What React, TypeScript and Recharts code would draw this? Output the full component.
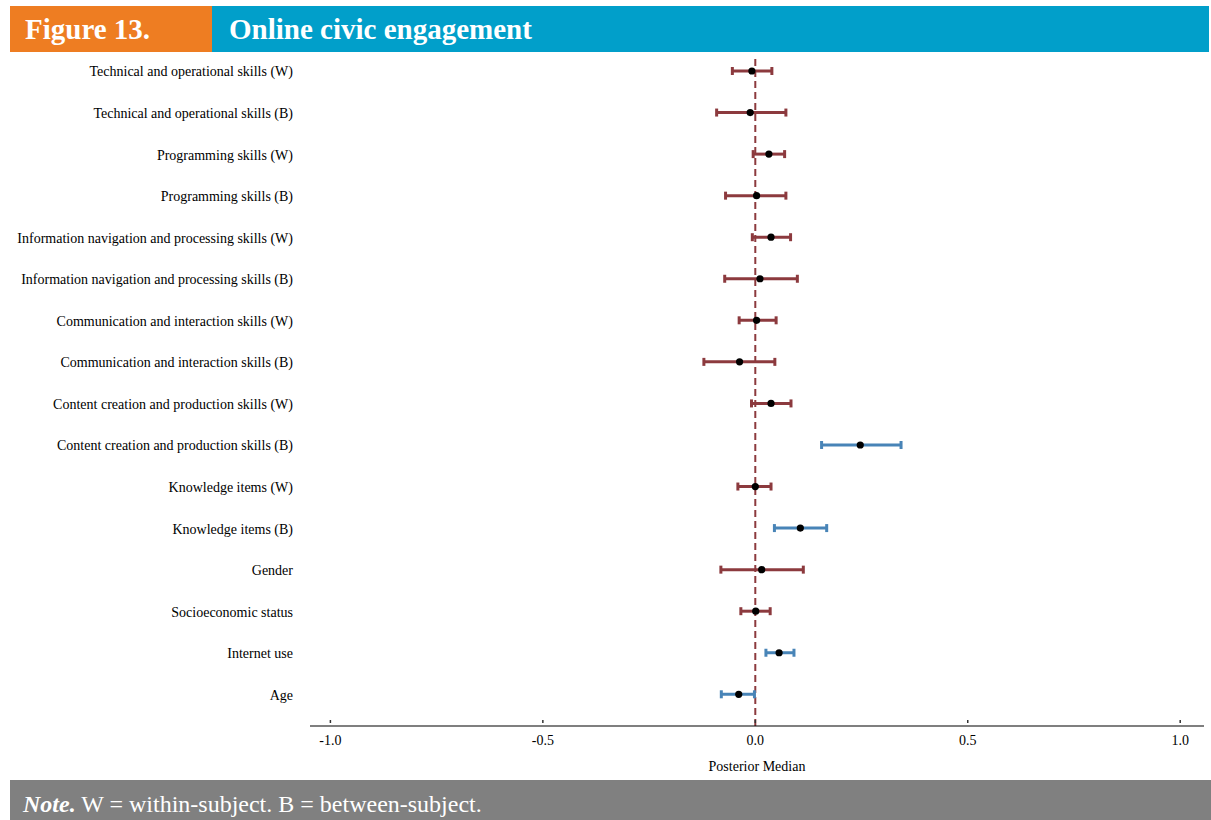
import React from "react";
import { ScatterChart, Scatter, XAxis, YAxis, ErrorBar, ReferenceLine } from "recharts";

const labels = [
  "Technical and operational skills (W)",
  "Technical and operational skills (B)",
  "Programming skills (W)",
  "Programming skills (B)",
  "Information navigation and processing skills (W)",
  "Information navigation and processing skills (B)",
  "Communication and interaction skills (W)",
  "Communication and interaction skills (B)",
  "Content creation and production skills (W)",
  "Content creation and production skills (B)",
  "Knowledge items (W)",
  "Knowledge items (B)",
  "Gender",
  "Socioeconomic status",
  "Internet use",
  "Age",
];
const medians = [-0.008, -0.012, 0.032, 0.003, 0.037, 0.011, 0.003, -0.037, 0.037, 0.247, 0.0, 0.106, 0.015, 0.001, 0.056, -0.039];
const lowers = [-0.054, -0.091, -0.005, -0.07, -0.007, -0.072, -0.038, -0.121, -0.009, 0.156, -0.041, 0.045, -0.081, -0.034, 0.025, -0.08];
const uppers = [0.039, 0.072, 0.069, 0.072, 0.083, 0.099, 0.049, 0.046, 0.084, 0.343, 0.037, 0.168, 0.113, 0.035, 0.091, -0.002];
const xTicks = [-1.0, -0.5, 0.0, 0.5, 1.0];

const RED = "#8c3a3e";
const BLUE = "#4884b7";
const SERIF = "'Liberation Serif', 'Times New Roman', serif";

const rows = labels.map((label, i) => ({
  label,
  row: i,
  median: medians[i],
  err: [medians[i] - lowers[i], uppers[i] - medians[i]],
  sig: lowers[i] > 0 || uppers[i] < 0,
}));
const redRows = rows.filter((r) => !r.sig);
const blueRows = rows.filter((r) => r.sig);

const Dot = (p: any) => <circle cx={p.cx} cy={p.cy} r={3.6} fill="#000" />;

const XTick = (p: any) => {
  const { x, y, payload } = p;
  return (
    <g>
      <line x1={x} x2={x} y1={y - 8} y2={y - 5} stroke="#333" strokeWidth={1.5} />
      <text x={x} y={y + 17} textAnchor="middle" fontFamily={SERIF} fontSize={14} fill="#000">
        {payload.value.toFixed(1)}
      </text>
    </g>
  );
};

const YTick = (p: any) => {
  const { x, y, payload } = p;
  return (
    <text x={x} y={y} dy={5.5} textAnchor="end" fontFamily={SERIF} fontSize={14} fill="#000">
      {labels[payload.value] ?? ""}
    </text>
  );
};

const XLabel = (p: any) => {
  const vb = p.viewBox || {};
  return (
    <text x={vb.x + vb.width / 2} y={771} textAnchor="middle" fontFamily={SERIF} fontSize={14} fill="#000">
      Posterior Median
    </text>
  );
};

export default function App() {
  return (
    <div style={{ position: "absolute", left: 0, top: 0, width: 1211, height: 820, background: "#fff", fontFamily: SERIF }}>
      <div
        style={{
          position: "absolute", left: 10, top: 6, width: 202, height: 46, background: "#ee7d22",
          color: "#fff", fontWeight: "bold", fontSize: 29, lineHeight: "46px", paddingLeft: 15, boxSizing: "border-box",
        }}
      >
        Figure 13.
      </div>
      <div
        style={{
          position: "absolute", left: 212, top: 6, width: 997, height: 46, background: "#019fca",
          color: "#fff", fontWeight: "bold", fontSize: 29, lineHeight: "46px", paddingLeft: 17, boxSizing: "border-box",
        }}
      >
        Online civic engagement
      </div>
      <div style={{ position: "absolute", left: 0, top: 0 }}>
        <ScatterChart width={1211} height={780} margin={{ top: 55, right: 7, bottom: 0, left: 0 }}>
          <XAxis
            type="number"
            dataKey="median"
            domain={[-1.048, 1.056]}
            allowDataOverflow
            ticks={xTicks}
            interval={0}
            height={54}
            tickLine={false}
            tickSize={0}
            tick={<XTick />}
            axisLine={{ stroke: "#000", strokeWidth: 1.2 }}
            label={<XLabel />}
          />
          <YAxis
            type="number"
            dataKey="row"
            domain={[-0.385, 15.763]}
            allowDataOverflow
            reversed
            ticks={labels.map((_, i) => i)}
            interval={0}
            width={310}
            axisLine={false}
            tickLine={false}
            tickSize={0}
            tickMargin={17}
            tick={<YTick />}
          />
          <ReferenceLine x={0} stroke={RED} strokeWidth={2} strokeDasharray="7 4" />
          <Scatter data={redRows} isAnimationActive={false} shape={<Dot />}>
            <ErrorBar dataKey="err" direction="x" width={4} stroke={RED} strokeWidth={3} />
          </Scatter>
          <Scatter data={blueRows} isAnimationActive={false} shape={<Dot />}>
            <ErrorBar dataKey="err" direction="x" width={4} stroke={BLUE} strokeWidth={3} />
          </Scatter>
        </ScatterChart>
      </div>
      <div
        style={{
          position: "absolute", left: 10, top: 780, width: 1201, height: 40, background: "#808080",
          color: "#fff", fontSize: 24, lineHeight: "48px", paddingLeft: 13, boxSizing: "border-box", overflow: "hidden",
        }}
      >
        <b><i>Note.</i></b> W = within-subject. B = between-subject.
      </div>
    </div>
  );
}
